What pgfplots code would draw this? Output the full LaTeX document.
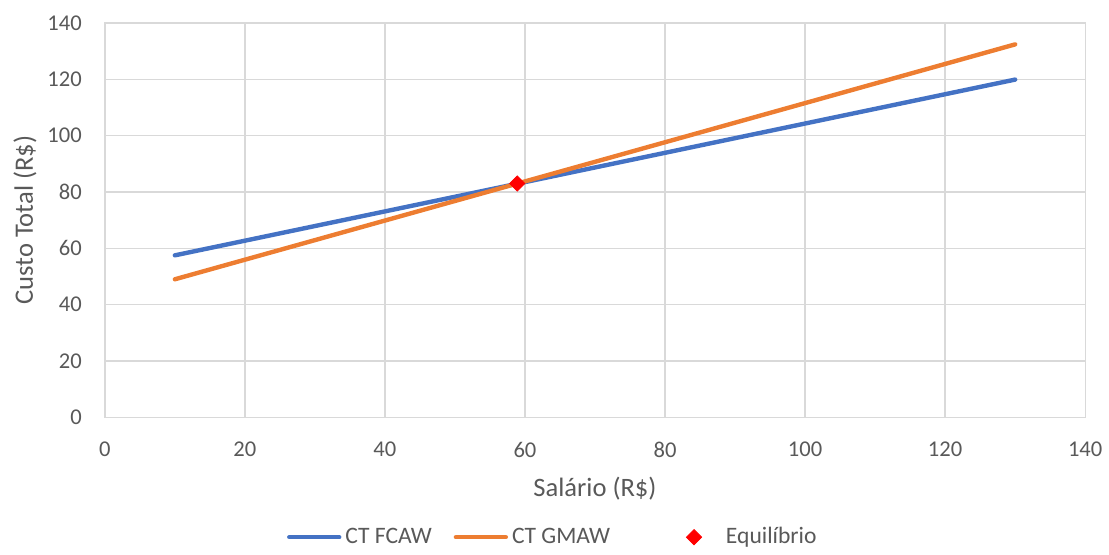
\documentclass[border=0pt]{standalone}
\usepackage{pgfplots}
\pgfplotsset{compat=1.18}
\usepackage{fontspec}
\setmainfont{Carlito}
\definecolor{fcaw}{HTML}{4472C4}
\definecolor{gmaw}{HTML}{ED7D31}
\definecolor{gridgray}{HTML}{D9D9D9}
\definecolor{txtgray}{HTML}{595959}
\pgfplotsset{
  lineleg/.style={legend image code/.code={\draw[##1] (0pt,0pt) -- (25pt,0pt);}},
  markleg/.style={legend image code/.code={\path[draw=none, fill=none] (0pt,-1pt) rectangle (45pt,1pt); \draw[mark repeat=2,mark phase=2,##1] plot coordinates {(0pt,0pt) (31pt,0pt) (45pt,0pt)};}},
}
\begin{document}
\begin{tikzpicture}
\begin{axis}[
  scale only axis, width=491pt, height=197.5pt,
  xmin=0, xmax=140, ymin=0, ymax=140,
  xtick={0,20,...,140}, ytick={0,20,...,140},
  grid=major, grid style={draw=gridgray, line width=0.7pt},
  axis line style={draw=gridgray, line width=0.7pt},
  major tick length=0pt,
  /pgf/number format/assume math mode=true,
  ticklabel style={font=\fontsize{11.3}{13}\selectfont, text=txtgray},
  xticklabel style={yshift=-9pt},
  yticklabel style={xshift=-8pt},
  label style={font=\fontsize{13.3}{15}\selectfont, text=txtgray},
  xlabel={Salário (R\$)}, ylabel={Custo Total (R\$)},
  xlabel style={at={(axis description cs:0.5,-0.182)}, anchor=center},
  ylabel style={at={(axis description cs:-0.0815,0.5)}, anchor=center},
  legend columns=3,
  legend style={draw=none, at={(0.458,-0.304)}, anchor=center,
    font=\fontsize{11.8}{13}\selectfont, text=txtgray,
    /tikz/every even column/.append style={column sep=9pt}},
  legend cell align=left,
]
\addplot[fcaw, line width=2.2pt, line cap=round, lineleg]
  coordinates {(10,57.5) (130,119.9)};
\addlegendentry{CT FCAW}
\addplot[gmaw, line width=2.2pt, line cap=round, lineleg]
  coordinates {(10,49.0) (130,132.4)};
\addlegendentry{CT GMAW}
\addplot[only marks, mark=square*, color=red, mark size=2.7pt, mark options={rotate=45}, markleg]
  coordinates {(58.9,83.0)};
\addlegendentry{Equilíbrio}
\end{axis}
\path (current axis.south west) ++(-52.5pt,-65pt) coordinate (bbA);
\path (current axis.south west) ++(502pt,209pt) coordinate (bbB);
\path (bbA) rectangle (bbB);
\end{tikzpicture}
\end{document}
